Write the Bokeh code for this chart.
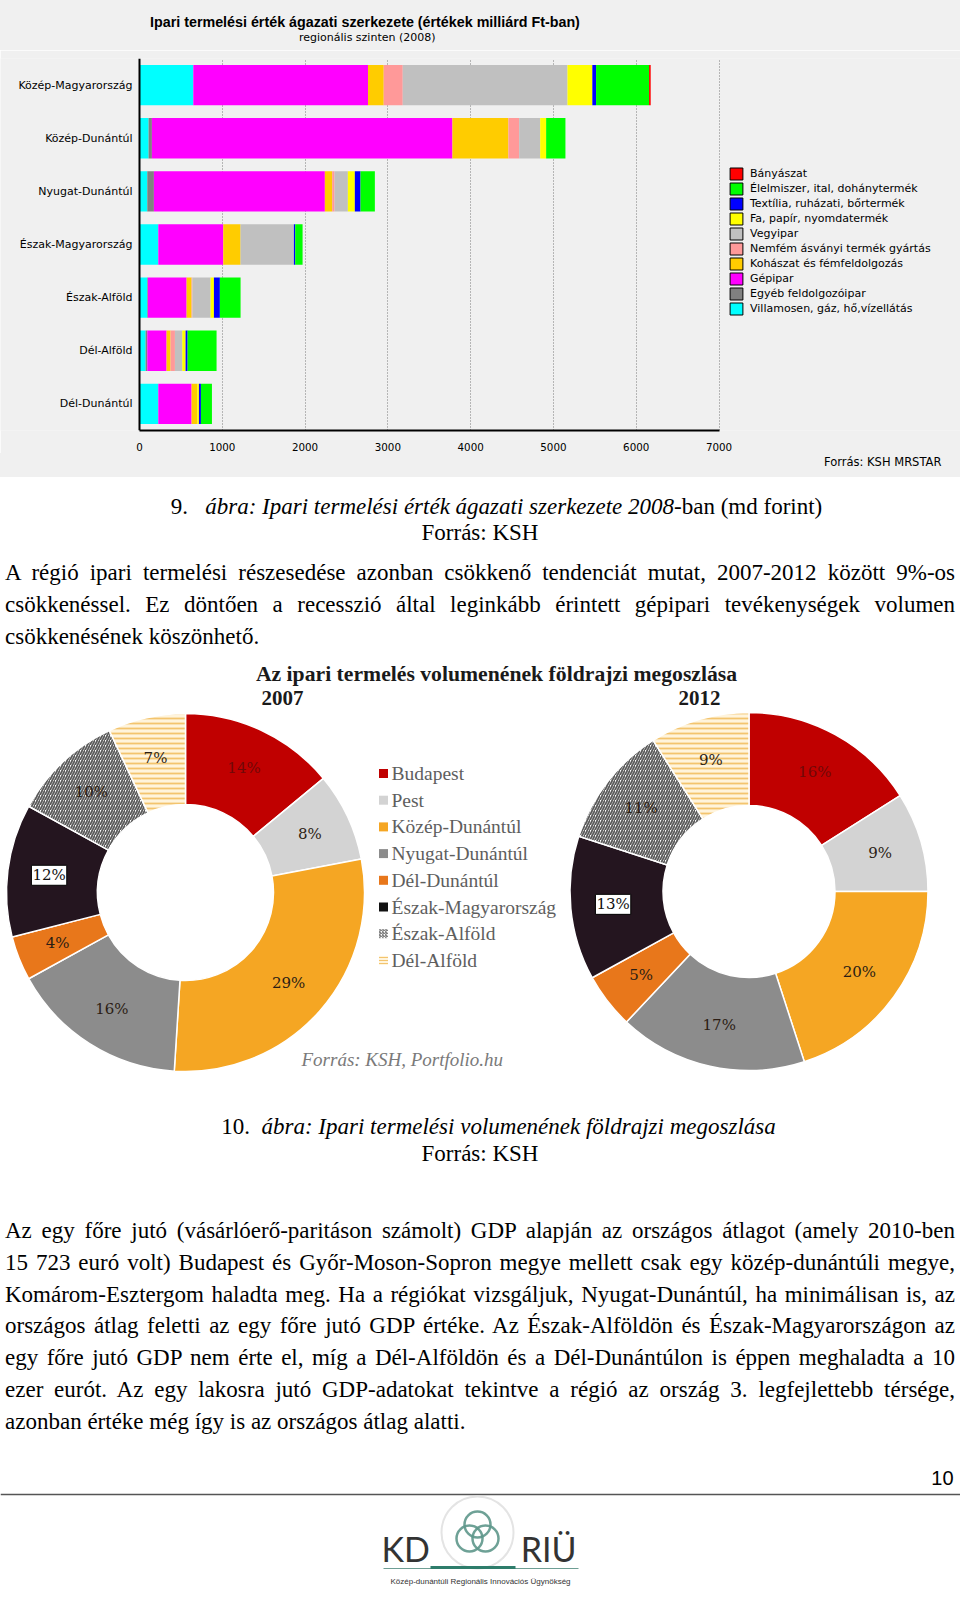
import math
from bokeh.plotting import figure
from bokeh.models import (Range1d, FactorRange, Legend, LegendItem, FixedTicker, Span,
                          Div, ColumnDataSource)
from bokeh.layouts import column
from bokeh.core.properties import value
from bokeh.embed import file_html
from bokeh.resources import INLINE

# ------------------------------------------------------------------ data
regions = ["Közép-Magyarország", "Közép-Dunántúl", "Nyugat-Dunántúl", "Észak-Magyarország",
           "Észak-Alföld", "Dél-Alföld", "Dél-Dunántúl"]

# stacking order, left to right
sector_names = ["Villamosen, gáz, hő,vízellátás", "Egyéb feldolgozóipar", "Gépipar",
                "Kohászat és fémfeldolgozás", "Nemfém ásványi termék gyártás", "Vegyipar",
                "Fa, papír, nyomdatermék", "Textília, ruházati, bőrtermék",
                "Élelmiszer, ital, dohánytermék", "Bányászat"]
sector_colors = ["#00ffff", "#808080", "#ff00ff", "#ffcc00", "#ff9999", "#c0c0c0",
                 "#ffff00", "#0000ff", "#00ff00", "#ff0000"]

villamos = [650, 110, 94, 227, 94, 74, 227]
egyeb = [0, 40, 80, 0, 8, 20, 0]
gepipar = [2110, 3630, 2065, 785, 467, 233, 402]
kohaszat = [190, 676, 89, 209, 60, 48, 69]
nemfem = [230, 130, 28, 0, 10, 53, 0]
vegyipar = [1990, 254, 161, 644, 220, 89, 0]
fa = [300, 72, 84, 0, 40, 40, 20]
textil = [45, 0, 69, 16, 72, 24, 24]
elelmiszer = [640, 233, 173, 89, 250, 350, 133]
banyaszat = [20, 0, 0, 0, 0, 0, 0]
sector_values = [villamos, egyeb, gepipar, kohaszat, nemfem, vegyipar, fa, textil,
                 elelmiszer, banyaszat]
x_ticks = [0, 1000, 2000, 3000, 4000, 5000, 6000, 7000]

donut_labels = ["Budapest", "Pest", "Közép-Dunántúl", "Nyugat-Dunántúl", "Dél-Dunántúl",
                "Észak-Magyarország", "Észak-Alföld", "Dél-Alföld"]
share_2007 = [14, 8, 29, 16, 4, 12, 10, 7]
share_2012 = [16, 9, 20, 17, 5, 13, 11, 9]
donut_colors = ["#c00000", "#d3d3d3", "#f5a623", "#8c8c8c", "#e8771b", "#24151f",
                "#ffffff", "#fff4dc"]
donut_hatch = [" ", " ", " ", " ", " ", " ", "/", "-"]
donut_hatch_colors = ["#000000"] * 6 + ["#5a5a5a", "#f3c46e"]

# ------------------------------------------------------------------ layout constants
W = 960
BG = "#f0f0f0"

# ---------------- header (chart title) as a gray strip
head = Div(text=(
    '<div style="height:50px;position:relative;color:#000;">'
    '<div style="position:absolute;left:150px;top:14px;line-height:17px;font-size:14.3px;'
    'font-weight:bold;white-space:nowrap;font-family:\'Liberation Sans\';">'
    'Ipari termelési érték ágazati szerkezete (értékek milliárd Ft-ban)</div>'
    '<div style="position:absolute;left:299px;top:31px;line-height:14px;font-size:11px;'
    'white-space:nowrap;font-family:\'DejaVu Sans\';">regionális szinten (2008)</div>'
    '</div>'), width=W, height=50, margin=0, styles={"background-color": BG})

# ---------------- figure 1 : stacked bars (page y 50 -> 453)
H1 = 403
TOP1 = 50
fr_top, fr_bottom = 58, 433
x0_page = 139.0
px_per_unit = (718.5 - 139.0) / 7000.0

def xdata(page_x):
    return (page_x - x0_page) / px_per_unit

p1 = figure(width=W, height=H1, x_range=Range1d(xdata(0), xdata(W)),
            y_range=FactorRange(factors=list(reversed(regions)), range_padding=0),
            y_axis_location=None, output_backend="svg", toolbar_location=None,
            min_border_left=0, min_border_right=0,
            min_border_top=fr_top - TOP1, min_border_bottom=TOP1 + H1 - fr_bottom)
p1.background_fill_color = BG
p1.border_fill_color = BG
p1.outline_line_color = None

lefts = [0.0] * len(regions)
for name, col, vals in zip(sector_names, sector_colors, sector_values):
    rights = [l + v for l, v in zip(lefts, vals)]
    p1.hbar(y=regions, left=lefts, right=rights, height=0.76, fill_color=col, line_color=None)
    lefts = rights

xa = p1.xaxis[0]
xa.ticker = FixedTicker(ticks=x_ticks)
xa.bounds = (0, 7000)
xa.axis_line_width = 2
xa.axis_line_color = "black"
xa.major_tick_line_color = None
xa.minor_tick_line_color = None
xa.major_label_text_font = "DejaVu Sans"
xa.major_label_text_font_size = "10.3px"
xa.major_label_text_color = "#000000"
xa.major_label_standoff = 6

p1.xgrid.grid_line_color = "#7a7a7a"
p1.xgrid.grid_line_dash = "1 2"
p1.xgrid.grid_line_width = 1
p1.ygrid.visible = False

# category axis line and labels
p1.add_layout(Span(location=0, dimension="height", line_color="black", line_width=2))
p1.text(x=[xdata(132)] * len(regions), y=regions, text=regions, text_align="right",
        text_baseline="middle", text_font=value("DejaVu Sans"), text_font_size="11px",
        text_color="#000000")

items = []
for name, col in reversed(list(zip(sector_names, sector_colors))):
    r = p1.hbar(y=[regions[0]], left=[0], right=[0], height=0.0, fill_color=col,
                line_color="black", line_width=1)
    items.append(LegendItem(label=name, renderers=[r]))
legend = Legend(items=items, location=(728, 114), glyph_width=16, glyph_height=15,
                label_height=15, spacing=0, padding=0, margin=0, border_line_color=None,
                background_fill_alpha=0, label_text_font="DejaVu Sans",
                label_text_font_size="11px", label_standoff=6, label_text_color="#000000")
p1.add_layout(legend, "center")

# ---------------- source strip under the chart (page y 453 -> 477)
src_div = Div(text=(
    '<div style="height:24px;position:relative;">'
    '<div style="position:absolute;left:824px;top:2px;line-height:14px;font-size:11.5px;'
    'white-space:nowrap;font-family:\'DejaVu Sans\';color:#000;">Forrás: KSH MRSTAR</div>'
    '</div>'), width=W, height=24, margin=0, styles={"background-color": BG})

# ---------------- Div 1 (page y 477 -> 655)
def jline(s, last=False):
    a = "left" if last else "justify"
    return (f'<div style="white-space:nowrap;text-align:{a};text-align-last:{a};">{s}</div>')

para1 = ["A régió ipari termelési részesedése azonban csökkenő tendenciát mutat, 2007-2012 között 9%-os",
         "csökkenéssel. Ez döntően a recesszió által leginkább érintett gépipari tevékenységek volumen",
         "csökkenésének köszönhető."]
para2 = ["Az egy főre jutó (vásárlóerő-paritáson számolt) GDP alapján az országos átlagot (amely 2010-ben",
         "15&nbsp;723 euró volt) Budapest és Győr-Moson-Sopron megye mellett csak egy közép-dunántúli megye,",
         "Komárom-Esztergom haladta meg. Ha a régiókat vizsgáljuk, Nyugat-Dunántúl, ha minimálisan is, az",
         "országos átlag feletti az egy főre jutó GDP értéke. Az Észak-Alföldön és Észak-Magyarországon az",
         "egy főre jutó GDP nem érte el, míg a Dél-Alföldön és a Dél-Dunántúlon is éppen meghaladta a 10",
         "ezer eurót. Az egy lakosra jutó GDP-adatokat tekintve a régió az ország 3. legfejlettebb térsége,",
         "azonban értéke még így is az országos átlag alatti."]

FONT = "font-family:'Liberation Serif','Times New Roman',serif;color:#000;"
TXTW = 950
cap1 = ('<div style="padding-top:17px;text-align:center;font-size:23px;line-height:26px;">'
        '<div style="padding-left:33px;">9.&nbsp;&nbsp;&nbsp;<i>ábra: Ipari termelési érték ágazati '
        'szerkezete 2008</i>-ban (md forint)</div><div>Forrás: KSH</div></div>')
body1 = ('<div style="margin-top:11px;font-size:23px;line-height:32px;">'
         + "".join(jline(s, i == len(para1) - 1) for i, s in enumerate(para1)) + '</div>')
div1 = Div(text=f'<div style="{FONT}width:{TXTW}px;margin-left:5px;">{cap1}{body1}</div>',
           width=W, height=178, margin=0)

# ---------------- figure 2 : donuts (page y 655 -> 1090)
TOP2, H2 = 655, 435
p2 = figure(width=W, height=H2, x_range=Range1d(0, W), y_range=Range1d(0, H2),
            output_backend="svg", toolbar_location=None, min_border=0)
p2.axis.visible = False
p2.grid.visible = False
p2.outline_line_color = None
p2.background_fill_color = "white"
p2.border_fill_color = "white"

def Y2(page_y):
    return TOP2 + H2 - page_y

SERIF = "Liberation Serif"

def donut(cx, cy, r_in, r_out, shares, box_index):
    total = float(sum(shares))
    c0, starts, ends, mids = 0.0, [], [], []
    for s in shares:
        c1 = c0 + s / total
        starts.append(math.pi / 2 - 2 * math.pi * c0)
        ends.append(math.pi / 2 - 2 * math.pi * c1)
        mids.append(2 * math.pi * (c0 + c1) / 2)
        c0 = c1
    src = ColumnDataSource(dict(start=starts, end=ends, color=donut_colors,
                                hatch=donut_hatch, hcol=donut_hatch_colors))
    p2.annular_wedge(x=cx, y=Y2(cy), inner_radius=r_in, outer_radius=r_out,
                     start_angle="start", end_angle="end", direction="clock",
                     fill_color="color", line_color="white", line_width=1.5,
                     hatch_pattern="hatch", hatch_color="hcol", hatch_scale=5,
                     hatch_weight=1.8, source=src)
    rm = (r_in + r_out) / 2 + 4
    lx = [cx + rm * math.sin(a) for a in mids]
    ly = [Y2(cy - rm * math.cos(a)) for a in mids]
    txt = [f"{s}%" for s in shares]
    tcol = ["#700808" if i == 0 else "#2b1d14" for i in range(len(shares))]
    keep = [i for i in range(len(shares)) if i != box_index]
    p2.text(x=[lx[i] for i in keep], y=[ly[i] for i in keep], text=[txt[i] for i in keep],
            text_color=[tcol[i] for i in keep], text_align="center", text_baseline="middle",
            text_font=value("DejaVu Serif"), text_font_size="15px")
    p2.text(x=[lx[box_index]], y=[ly[box_index]], text=[txt[box_index]],
            text_color="#111111", text_align="center", text_baseline="middle",
            text_font=value("DejaVu Serif"), text_font_size="15px",
            background_fill_color="white", border_line_color="black", border_line_width=1,
            padding=1)

donut(185, 892, 88, 179, share_2007, 5)
donut(748.5, 891, 86, 179, share_2012, 5)

p2.text(x=[496], y=[Y2(673)], text=["Az ipari termelés volumenének földrajzi megoszlása"],
        text_align="center", text_baseline="middle", text_font=value(SERIF),
        text_font_style="bold", text_font_size="21.7px", text_color="#1a1a1a")
p2.text(x=[282, 699], y=[Y2(697), Y2(697)], text=["2007", "2012"],
        text_align="center", text_baseline="middle", text_font=value(SERIF),
        text_font_style="bold", text_font_size="21px", text_color="#1a1a1a")
p2.text(x=[301], y=[Y2(1059)], text=["Forrás: KSH, Portfolio.hu"],
        text_align="left", text_baseline="middle", text_font=value(SERIF),
        text_font_style="italic", text_font_size="19px", text_color="#7a7a7a")

leg_y = [Y2(773 + i * 26.7) for i in range(len(donut_labels))]
leg_fill = ["#c00000", "#d3d3d3", "#f5a623", "#8c8c8c", "#e8771b", "#111111", "#ffffff", "#fff4dc"]
p2.scatter(x=[383] * len(donut_labels), y=leg_y, marker="square", size=9,
           fill_color=leg_fill, line_color=None,
           hatch_pattern=donut_hatch, hatch_color=donut_hatch_colors, hatch_scale=3)
p2.text(x=[391] * len(donut_labels), y=leg_y, text=donut_labels, text_align="left",
        text_baseline="middle", text_font=value(SERIF), text_font_size="19.5px",
        text_color="#5e5e5e")

# ---------------- Div 2
cap2 = ('<div style="padding-top:23px;text-align:center;font-size:23px;line-height:27px;">'
        '<div style="padding-left:37px;">10.&nbsp;&nbsp;<i>ábra: Ipari termelési volumenének '
        'földrajzi megoszlása</i></div><div>Forrás: KSH</div></div>')
body2 = ('<div style="margin-top:48px;font-size:23px;line-height:31.8px;">'
         + "".join(jline(s, i == len(para2) - 1) for i, s in enumerate(para2)) + '</div>')
div2 = Div(text=f'<div style="{FONT}width:{TXTW}px;margin-left:5px;">{cap2}{body2}</div>',
           width=W, height=350, margin=0)

# ---------------- figure 3 : footer (page y 1440 -> 1605)
TOP3, H3 = 1440, 165
p3 = figure(width=W, height=H3, x_range=Range1d(0, W), y_range=Range1d(0, H3),
            output_backend="svg", toolbar_location=None, min_border=0)
p3.axis.visible = False
p3.grid.visible = False
p3.outline_line_color = None

def Y3(page_y):
    return TOP3 + H3 - page_y

p3.text(x=[953], y=[Y3(1477)], text=["10"], text_align="right", text_baseline="middle",
        text_font=value("Liberation Sans"), text_font_size="20px", text_color="#000000")
p3.segment(x0=[0], y0=[Y3(1494)], x1=[W], y1=[Y3(1494)], line_color="#555555",
           line_width=1.5)
# logo
p3.circle(x=[477], y=[Y3(1532)], radius=36, fill_color=None, line_color="#e4e4e4",
          line_width=2)
p3.circle(x=[477, 469, 485], y=[Y3(1524), Y3(1538), Y3(1538)], radius=13, fill_color=None,
          line_color="#5e978b", line_width=2.5, line_alpha=0.9)
p3.text(x=[381], y=[Y3(1548)], text=["KD"], text_align="left", text_baseline="middle",
        text_font=value("Lato"), text_font_size="34px", text_color="#333333")
p3.text(x=[576], y=[Y3(1548)], text=["RIÜ"], text_align="right", text_baseline="middle",
        text_font=value("Lato"), text_font_size="34px", text_color="#333333")
p3.segment(x0=[383], y0=[Y3(1568)], x1=[578], y1=[Y3(1568)], line_color="#6e9e94",
           line_width=1)
p3.segment(x0=[430], y0=[Y3(1567)], x1=[515], y1=[Y3(1567)], line_color="#2e7d6b",
           line_width=3)
p3.text(x=[480], y=[Y3(1581)], text=["Közép-dunántúli Regionális Innovációs Ügynökség"],
        text_align="center", text_baseline="middle", text_font=value("Liberation Sans"),
        text_font_size="8px", text_color="#333333")

layout = column(head, p1, src_div, div1, p2, div2, p3, spacing=0)
open("out.html", "w").write(file_html(layout, INLINE))
